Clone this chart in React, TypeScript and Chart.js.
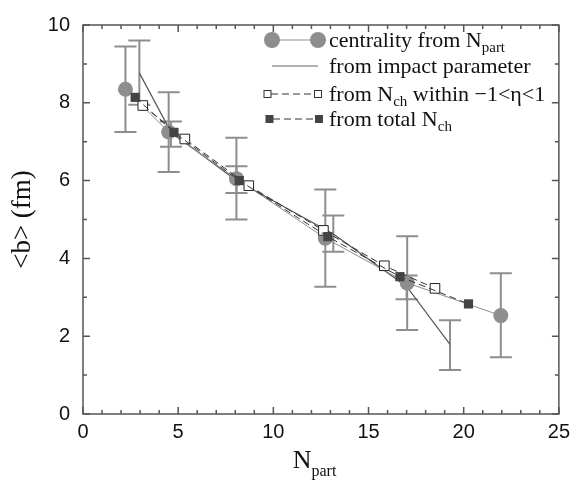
import React, { useEffect, useRef } from "react";
import { Chart, registerables } from "chart.js";
Chart.register(...registerables);

// centrality from N_part (gray circles with error bars)
const nPartX = [2.23, 4.5, 8.06, 12.73, 17.03, 21.95];
const nPartY = [8.35, 7.25, 6.05, 4.52, 3.37, 2.53];
const nPartLo = [7.25, 6.22, 5.0, 3.27, 2.16, 1.46];
const nPartHi = [9.45, 8.27, 7.1, 5.77, 4.57, 3.62];

// from impact parameter (thin line with error bars)
const impactX = [2.96, 4.62, 8.06, 13.15, 17.0, 19.28];
const impactY = [8.77, 7.25, 6.0, 4.63, 3.28, 1.79];
const impactLo = [7.95, 6.87, 5.68, 4.17, 2.95, 1.13];
const impactHi = [9.6, 7.52, 6.37, 5.1, 3.56, 2.41];

// from N_ch within -1<eta<1 (open squares)
const chEtaX = [3.14, 5.35, 8.71, 12.63, 15.83, 18.49];
const chEtaY = [7.93, 7.07, 5.87, 4.72, 3.81, 3.23];

// from total N_ch (filled squares)
const chTotX = [2.74, 4.78, 8.21, 12.86, 16.65, 20.25];
const chTotY = [8.14, 7.24, 6.0, 4.56, 3.53, 2.83];

const xTicks = [0, 5, 10, 15, 20, 25];
const yTicks = [0, 2, 4, 6, 8, 10];

const pts = (xs: number[], ys: number[]) => xs.map((x, i) => ({ x, y: ys[i] }));

const SERIF = "'Liberation Serif', 'DejaVu Serif', serif";
const SANS = "'Liberation Sans', Arial, sans-serif";

export default function App() {
  const ref = useRef<HTMLCanvasElement | null>(null);
  useEffect(() => {
    if (!ref.current) return;
    const errorBars = [
      { xs: nPartX, lo: nPartLo, hi: nPartHi },
      { xs: impactX, lo: impactLo, hi: impactHi },
    ];
    const errPlugin = {
      id: "errbars",
      beforeDatasetsDraw(chart: any) {
        const { ctx, scales } = chart;
        const x = scales.x, y = scales.y;
        ctx.save();
        ctx.strokeStyle = "#8e8e8e";
        ctx.lineWidth = 2;
        errorBars.forEach((s) => {
          s.xs.forEach((xv, i) => {
            const px = x.getPixelForValue(xv);
            const pl = y.getPixelForValue(s.lo[i]);
            const ph = y.getPixelForValue(s.hi[i]);
            ctx.beginPath();
            ctx.moveTo(px, pl); ctx.lineTo(px, ph);
            ctx.moveTo(px - 11, pl); ctx.lineTo(px + 11, pl);
            ctx.moveTo(px - 11, ph); ctx.lineTo(px + 11, ph);
            ctx.stroke();
          });
        });
        ctx.restore();
      },
    };
    const framePlugin = {
      id: "frame",
      afterDraw(chart: any) {
        const { ctx, chartArea: a, scales } = chart;
        const x = scales.x, y = scales.y;
        ctx.save();
        ctx.strokeStyle = "#555";
        ctx.lineWidth = 1.5;
        ctx.strokeRect(a.left, a.top, a.right - a.left, a.bottom - a.top);
        ctx.beginPath();
        for (let v = 0; v <= 25; v++) {
          const px = x.getPixelForValue(v);
          const len = v % 5 === 0 ? 7 : 4;
          ctx.moveTo(px, a.bottom); ctx.lineTo(px, a.bottom - len);
          ctx.moveTo(px, a.top); ctx.lineTo(px, a.top + len);
        }
        for (let v = 0; v <= 10; v++) {
          const py = y.getPixelForValue(v);
          const len = v % 2 === 0 ? 7 : 4;
          ctx.moveTo(a.left, py); ctx.lineTo(a.left + len, py);
          ctx.moveTo(a.right, py); ctx.lineTo(a.right - len, py);
        }
        ctx.stroke();

        // axis titles
        ctx.fillStyle = "#111";
        ctx.textBaseline = "alphabetic";
        ctx.font = `26px ${SERIF}`;
        const nW = ctx.measureText("N").width;
        ctx.font = `16px ${SERIF}`;
        const pW = ctx.measureText("part").width;
        const cx = 314.5;
        const sx = cx - (nW + pW) / 2;
        ctx.font = `26px ${SERIF}`;
        ctx.textAlign = "left";
        ctx.fillText("N", sx, 468);
        ctx.font = `16px ${SERIF}`;
        ctx.fillText("part", sx + nW, 476);

        ctx.save();
        ctx.translate(30, (a.top + a.bottom) / 2);
        ctx.rotate(-Math.PI / 2);
        ctx.font = `27px ${SERIF}`;
        ctx.textAlign = "center";
        ctx.fillText("<b> (fm)", 0, 0);
        ctx.restore();

        // legend
        const textX = 329;
        const rows = [47, 73, 101, 126];
        // row 1
        ctx.strokeStyle = "#8e8e8e";
        ctx.lineWidth = 1.2;
        ctx.beginPath(); ctx.moveTo(272, rows[0] - 7); ctx.lineTo(318, rows[0] - 7); ctx.stroke();
        ctx.fillStyle = "#8e8e8e";
        [272, 318].forEach((c) => { ctx.beginPath(); ctx.arc(c, rows[0] - 7, 8, 0, Math.PI * 2); ctx.fill(); });
        // row 2
        ctx.strokeStyle = "#666";
        ctx.lineWidth = 1.2;
        ctx.beginPath(); ctx.moveTo(272, rows[1] - 7); ctx.lineTo(318, rows[1] - 7); ctx.stroke();
        // row 3
        ctx.strokeStyle = "#333";
        ctx.lineWidth = 1;
        ctx.setLineDash([7, 4]);
        ctx.beginPath(); ctx.moveTo(271, rows[2] - 7); ctx.lineTo(315, rows[2] - 7); ctx.stroke();
        ctx.beginPath(); ctx.moveTo(273, rows[3] - 7); ctx.lineTo(315, rows[3] - 7); ctx.stroke();
        ctx.setLineDash([]);
        ctx.fillStyle = "#fff";
        [267.5, 318].forEach((c) => {
          ctx.fillRect(c - 3.5, rows[2] - 10.5, 7, 7);
          ctx.strokeRect(c - 3.5, rows[2] - 10.5, 7, 7);
        });
        ctx.fillStyle = "#444";
        [269.5, 319].forEach((c) => { ctx.fillRect(c - 4, rows[3] - 11, 8, 8); });

        ctx.fillStyle = "#111";
        ctx.textAlign = "left";
        const big = `22px ${SERIF}`;
        const small = `15px ${SERIF}`;
        const seg = (parts: [string, boolean][], baseY: number) => {
          let xx = textX;
          parts.forEach(([t, sub]) => {
            ctx.font = sub ? small : big;
            ctx.fillText(t, xx, sub ? baseY + 5 : baseY);
            xx += ctx.measureText(t).width;
          });
        };
        seg([["centrality from N", false], ["part", true]], rows[0]);
        seg([["from impact parameter", false]], rows[1]);
        seg([["from N", false], ["ch", true], [" within \u22121<\u03b7<1", false]], rows[2]);
        seg([["from total N", false], ["ch", true]], rows[3]);
        ctx.restore();
      },
    };

    const chart = new Chart(ref.current, {
      type: "scatter",
      data: {
        datasets: [
          {
            label: "from total Nch",
            data: pts(chTotX, chTotY),
            showLine: true,
            borderColor: "#333",
            borderWidth: 1,
            borderDash: [7, 4],
            pointStyle: "rect",
            pointRadius: 6.5,
            pointBackgroundColor: "#444",
            pointBorderColor: "#444",
            pointBorderWidth: 0,
          },
          {
            label: "from Nch within -1<eta<1",
            data: pts(chEtaX, chEtaY),
            showLine: true,
            borderColor: "#333",
            borderWidth: 1,
            borderDash: [7, 4],
            pointStyle: "rect",
            pointRadius: 6.8,
            pointBackgroundColor: "#fff",
            pointBorderColor: "#222",
            pointBorderWidth: 1,
          },
          {
            label: "centrality from Npart",
            data: pts(nPartX, nPartY),
            showLine: true,
            borderColor: "#8e8e8e",
            borderWidth: 1,
            pointStyle: "circle",
            pointRadius: 7.5,
            pointBackgroundColor: "#8e8e8e",
            pointBorderColor: "#8e8e8e",
            pointBorderWidth: 0,
          },
          {
            label: "from impact parameter",
            data: pts(impactX, impactY),
            showLine: true,
            borderColor: "#555",
            borderWidth: 1.2,
            pointRadius: 0,
          },
        ],
      },
      options: {
        animation: false,
        responsive: false,
        devicePixelRatio: 1,
        layout: { padding: { left: 0, top: 14, right: 12, bottom: 0 } },
        plugins: { legend: { display: false }, tooltip: { enabled: false } },
        scales: {
          x: {
            type: "linear",
            min: 0,
            max: 25,
            afterBuildTicks: (s: any) => { s.ticks = xTicks.map((v) => ({ value: v })); },
            afterFit: (s: any) => { s.height = 68; },
            grid: { display: false, drawTicks: false },
            border: { display: false },
            ticks: { color: "#111", font: { family: SANS, size: 20 }, padding: 6, maxRotation: 0 },
          },
          y: {
            type: "linear",
            min: 0,
            max: 10,
            afterBuildTicks: (s: any) => { s.ticks = yTicks.map((v) => ({ value: v })); },
            afterFit: (s: any) => { s.width = 83; },
            grid: { display: false, drawTicks: false },
            border: { display: false },
            ticks: { color: "#111", font: { family: SANS, size: 20 }, padding: 13 },
          },
        },
      },
      plugins: [errPlugin, framePlugin],
    } as any);
    return () => chart.destroy();
  }, []);
  return (
    <div style={{ position: "fixed", left: 0, top: 0, width: 576, height: 482, background: "#fff" }}>
      <canvas ref={ref} width={576} height={482} />
    </div>
  );
}
